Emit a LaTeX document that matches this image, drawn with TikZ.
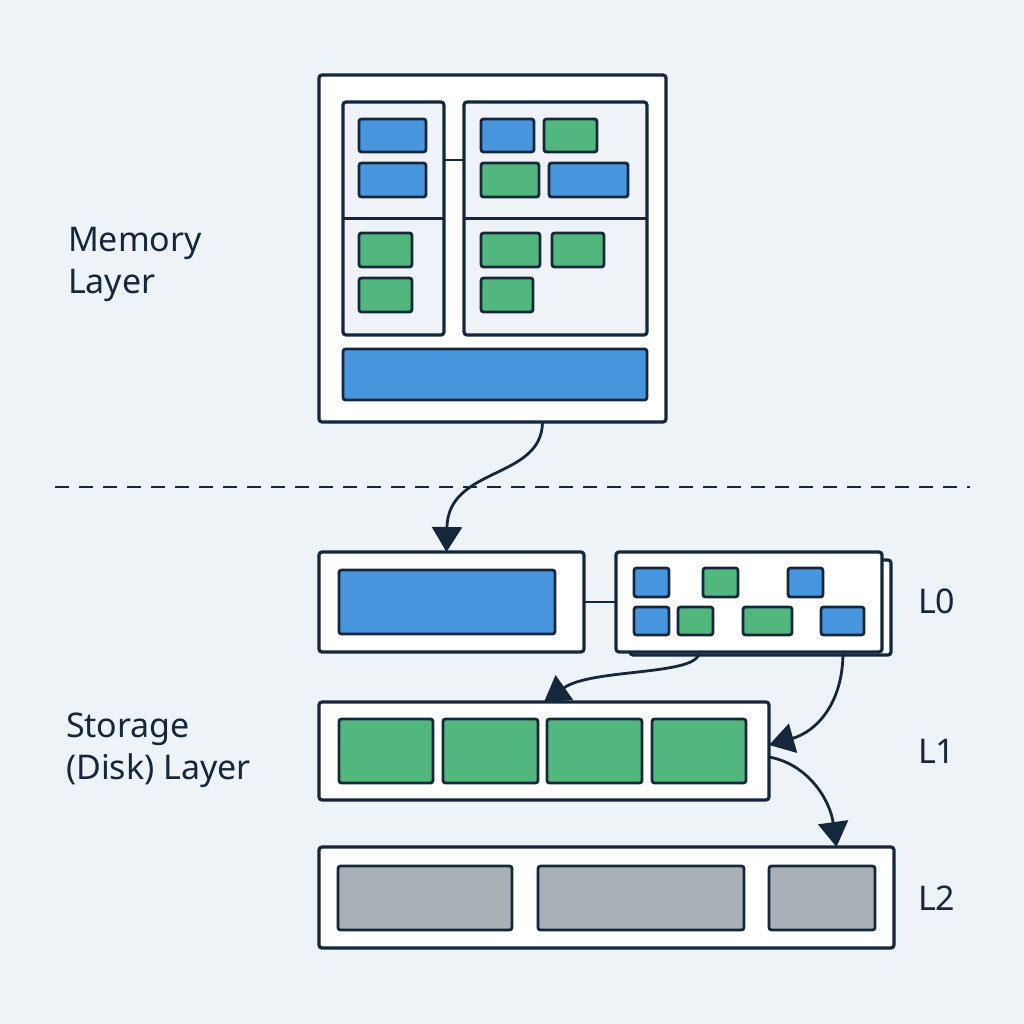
\documentclass[tikz,border=0pt]{standalone}
\usepackage{fontspec}
\setmainfont{Noto Sans}
\usetikzlibrary{arrows.meta}
\definecolor{bg}{HTML}{EEF3F8}
\definecolor{ink}{HTML}{15273B}
\definecolor{bblue}{HTML}{4896DE}
\definecolor{bgreen}{HTML}{52B77D}
\definecolor{bgrey}{HTML}{A9B0B7}
\definecolor{panel}{HTML}{EFF3F7}
\newcommand\rbox[6]{\node[#1, minimum width={#5-#3}, minimum height={#6-#4}] (#2) at ({(#3+#5)/2},{(#4+#6)/2}) {};}
\begin{document}
\begin{tikzpicture}[x=1pt,y=-1pt,
  frame/.style={draw=ink, line width=3.2pt, fill=white, rounded corners=3pt, inner sep=0pt, outer sep=0pt},
  pane/.style={frame, fill=panel},
  blk/.style={draw=ink, line width=2.8pt, rounded corners=2.5pt, inner sep=0pt, outer sep=0pt},
  bblk/.style={blk, fill=bblue},
  gblk/.style={blk, fill=bgreen},
  yblk/.style={blk, fill=bgrey},
  conn/.style={draw=ink, line width=2.8pt},
  arr/.style={conn, -{Triangle[length=25pt,width=30pt]}},
  lbl/.style={text=ink, font=\fontsize{34}{42}\selectfont, inner sep=0pt, outer sep=0pt}
]
\useasboundingbox[fill=bg] (0,0) rectangle (1024,1024);

% ---------- Memory layer ----------
\rbox{frame}{mem}{319}{75}{666}{422}
\rbox{pane}{lp}{343}{102}{444}{335}
\rbox{pane}{rp}{464}{102}{647}{335}
\draw[conn] (lp.west) -- (lp.east);
\draw[conn] (rp.west) -- (rp.east);
\draw[conn] ([yshift=58.5pt]lp.east) -- ([yshift=58.5pt]rp.west);

\rbox{bblk}{m1}{359}{119}{426}{152}
\rbox{bblk}{m2}{359}{163}{426}{197}
\rbox{gblk}{m3}{359}{233}{412}{267}
\rbox{gblk}{m4}{359}{278}{412}{312}

\rbox{bblk}{m5}{481}{119}{534}{152}
\rbox{gblk}{m6}{544}{119}{597}{152}
\rbox{gblk}{m7}{481}{163}{539}{197}
\rbox{bblk}{m8}{549}{163}{628}{197}
\rbox{gblk}{m9}{481}{233}{540}{267}
\rbox{gblk}{m10}{552}{233}{604}{267}
\rbox{gblk}{m11}{481}{278}{533}{312}

\rbox{bblk}{mbar}{343}{349}{647}{400}

% ---------- divider ----------
\draw[ink, line width=2.8pt, dash pattern=on 14pt off 10pt] (55,487) -- (970,487);

% ---------- L0 ----------
\rbox{frame}{L0a}{319}{552}{584}{652}
\rbox{bblk}{L0abar}{339}{570}{555}{634}
\rbox{frame}{L0back}{630}{560}{891}{655}
\rbox{frame}{L0b}{616}{552}{882}{652}
\draw[conn] (L0a.east) -- (L0b.west);

\rbox{bblk}{s1}{634}{568}{669}{597}
\rbox{gblk}{s2}{703}{568}{738}{597}
\rbox{bblk}{s3}{788}{568}{823}{597}
\rbox{bblk}{s4}{634}{607}{669}{635}
\rbox{gblk}{s5}{678}{607}{713}{635}
\rbox{gblk}{s6}{743}{607}{792}{635}
\rbox{bblk}{s7}{821}{607}{864}{635}

% ---------- L1 ----------
\rbox{frame}{L1}{319}{702}{769}{800}
\rbox{gblk}{t1}{339}{719}{433}{783}
\rbox{gblk}{t2}{443}{719}{538}{783}
\rbox{gblk}{t3}{547}{719}{642}{783}
\rbox{gblk}{t4}{652}{719}{746}{783}

% ---------- L2 ----------
\rbox{frame}{L2}{319}{847}{894}{948}
\rbox{yblk}{u1}{338}{866}{512}{930}
\rbox{yblk}{u2}{538}{866}{744}{930}
\rbox{yblk}{u3}{769}{866}{875}{930}

% ---------- arrows ----------
\draw[arr] ([xshift=50pt]mem.south) .. controls (542,480) and (448,466) .. ([xshift=-5pt]L0a.north);
\draw[arr] ([xshift=-50pt]L0b.south) .. controls (700,676) and (592,668) .. (L1.north);
\draw[arr] ([xshift=94pt]L0b.south) .. controls (843,705) and (815,732) .. ([yshift=6pt]L1.east);
\draw[arr] ([yshift=-6pt]L1.east) .. controls (808,764) and (830,800) .. ([xshift=230pt]L2.north);

% ---------- labels ----------
\node[lbl, anchor=base west, align=left] (memlbl) at (68,293) {Memory\\Layer};
\node[lbl, anchor=base west, align=left] (stolbl) at (66,779) {Storage\\(Disk) Layer};
\node[lbl, anchor=base west] (l0) at (918,613) {L0};
\node[lbl, anchor=base west] (l1) at (918,763) {L1};
\node[lbl, anchor=base west] (l2) at (918,910) {L2};
\end{tikzpicture}
\end{document}
